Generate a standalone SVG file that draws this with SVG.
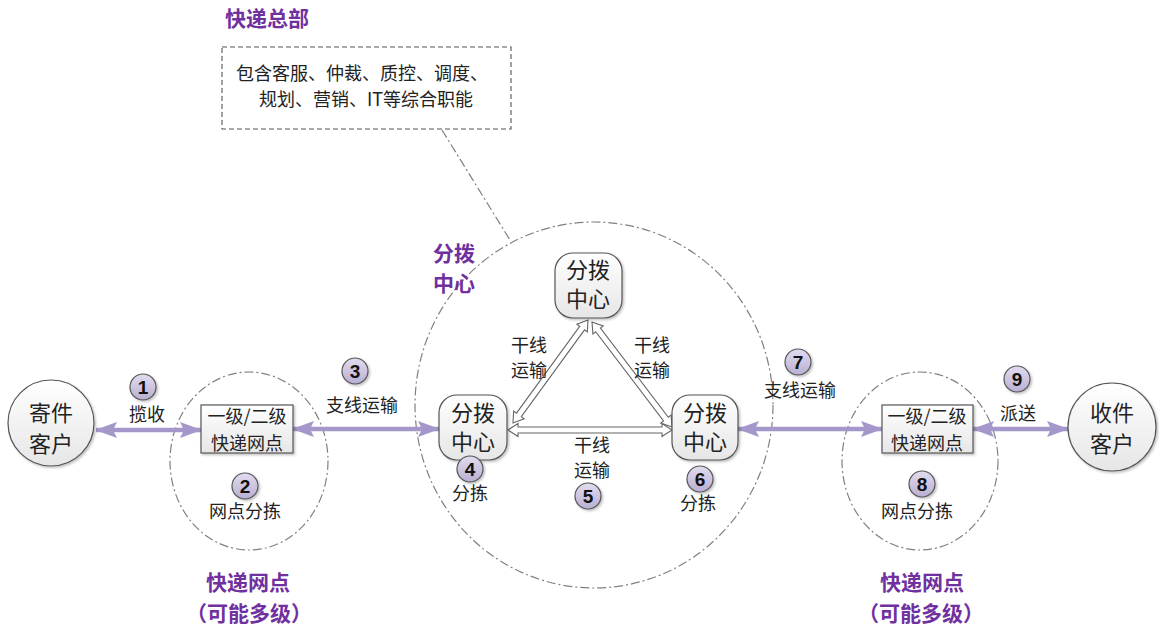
<svg xmlns="http://www.w3.org/2000/svg" width="1159" height="629" viewBox="0 0 1159 629">
<defs>
<linearGradient id="gNode" x1="0" y1="0" x2="0" y2="1">
<stop offset="0" stop-color="#ffffff"/>
<stop offset="1" stop-color="#e6e6e6"/>
</linearGradient>
<linearGradient id="gBadge" x1="0" y1="0" x2="0" y2="1">
<stop offset="0" stop-color="#e2dcef"/>
<stop offset="1" stop-color="#b9afd3"/>
</linearGradient>
<filter id="sh" x="-20%" y="-20%" width="150%" height="150%">
<feDropShadow dx="1.5" dy="1.5" stdDeviation="1.2" flood-color="#000" flood-opacity="0.25"/>
</filter>
<marker id="ph" viewBox="0 0 22 16" refX="21" refY="8" markerWidth="22" markerHeight="16" markerUnits="userSpaceOnUse" orient="auto-start-reverse">
<path d="M0,0 L22,8 L0,16 L4,8 Z" fill="#a597c9"/>
</marker>
</defs>
<style>
.t{font-family:"Noto Sans CJK SC","Liberation Sans",sans-serif;fill:#222;text-anchor:middle}
.lbl{font-size:18px}
.nd{font-size:22px}
.bx{font-size:18px}
.pu{font-family:"Noto Sans CJK SC","Liberation Sans",sans-serif;fill:#7030a0;font-weight:bold;font-size:21px;text-anchor:middle}
.num{font-family:"Liberation Sans",Arial,sans-serif;font-weight:bold;font-size:19px;fill:#111;text-anchor:middle}
.badge{fill:url(#gBadge);stroke:#555;stroke-width:1.2}
.zone{fill:none;stroke:#808080;stroke-width:1.2;stroke-dasharray:9 3 2 3}
.pl{stroke:#a597c9;stroke-width:4.5;fill:none;marker-start:url(#ph);marker-end:url(#ph)}
.hol{fill:#fff;stroke:#666;stroke-width:1.1}
.rnode{fill:url(#gNode);stroke:#555;stroke-width:1.2}
</style>
<rect width="1159" height="629" fill="#fff"/>

<!-- zones -->
<g id="zones">
<ellipse class="zone" cx="594" cy="405" rx="179" ry="183"/>
<ellipse class="zone" cx="249" cy="461" rx="79" ry="89"/>
<ellipse class="zone" cx="920" cy="461" rx="78" ry="89"/>
<line x1="442" y1="130" x2="510" y2="240" stroke="#808080" stroke-width="1.2" stroke-dasharray="9 3 2 3"/>
</g>

<!-- headquarters -->
<g id="hq">
<text class="pu" x="267" y="26" font-size="22">快递总部</text>
<rect x="222" y="47" width="289" height="82" fill="#fff" stroke="#555" stroke-width="1.1" stroke-dasharray="5 3"/>
<text class="t bx" x="362" y="80" font-size="19">包含客服、仲裁、质控、调度、</text>
<text class="t bx" x="366" y="106" font-size="19">规划、营销、IT等综合职能</text>
</g>

<!-- connectors -->
<g id="connectors">
<line class="pl" x1="96" y1="430" x2="201" y2="430"/>
<line class="pl" x1="293" y1="429" x2="439" y2="429"/>
<line class="pl" x1="738" y1="429" x2="882" y2="429"/>
<line class="pl" x1="973" y1="429" x2="1068" y2="429"/>
<polygon class="hol" points="508,430 518,423.5 518,427 662,427 662,423.5 672,430 662,436.5 662,433 518,433 518,436.5"/>
<g transform="translate(513,423) rotate(-53.94)">
<polygon class="hol" points="0,0 10,-6.5 10,-3 117.4,-3 117.4,-6.5 127.4,0 117.4,6.5 117.4,3 10,3 10,6.5"/>
</g>
<g transform="translate(592,322) rotate(52.7)">
<polygon class="hol" points="0,0 10,-6.5 10,-3 122,-3 122,-6.5 132,0 122,6.5 122,3 10,3 10,6.5"/>
</g>
</g>

<!-- nodes -->
<g id="sender">
<circle cx="51" cy="423" r="43" fill="url(#gNode)" stroke="#555" stroke-width="1.2" filter="url(#sh)"/>
<text class="t nd" x="51" y="421">寄件</text>
<text class="t nd" x="51" y="452">客户</text>
</g>
<g id="outlet-left">
<rect x="201" y="405" width="92" height="48" fill="url(#gNode)" stroke="#555" stroke-width="1.2" filter="url(#sh)"/>
<text class="t bx" x="247" y="423">一级/二级</text>
<text class="t bx" x="247" y="450">快递网点</text>
</g>
<g id="hub-top">
<rect class="rnode" x="555" y="253" width="67" height="65" rx="18" filter="url(#sh)"/>
<text class="t nd" x="588" y="278">分拨</text>
<text class="t nd" x="588" y="307">中心</text>
</g>
<g id="hub-left">
<rect class="rnode" x="439" y="395" width="68" height="65" rx="18" filter="url(#sh)"/>
<text class="t nd" x="473" y="421">分拨</text>
<text class="t nd" x="473" y="450">中心</text>
</g>
<g id="hub-right">
<rect class="rnode" x="672" y="395" width="66" height="65" rx="18" filter="url(#sh)"/>
<text class="t nd" x="705" y="421">分拨</text>
<text class="t nd" x="705" y="450">中心</text>
</g>
<g id="outlet-right">
<rect x="882" y="405" width="91" height="48" fill="url(#gNode)" stroke="#555" stroke-width="1.2" filter="url(#sh)"/>
<text class="t bx" x="927" y="423">一级/二级</text>
<text class="t bx" x="927" y="450">快递网点</text>
</g>
<g id="receiver">
<circle cx="1112" cy="427" r="44" fill="url(#gNode)" stroke="#555" stroke-width="1.2" filter="url(#sh)"/>
<text class="t nd" x="1112" y="421">收件</text>
<text class="t nd" x="1112" y="452">客户</text>
</g>

<!-- labels -->
<g id="labels">
<text class="t lbl" x="147" y="421">揽收</text>
<text class="t lbl" x="245" y="518">网点分拣</text>
<text class="t lbl" x="362" y="412">支线运输</text>
<text class="t lbl" x="529" y="352">干线</text>
<text class="t lbl" x="529" y="377">运输</text>
<text class="t lbl" x="652" y="352">干线</text>
<text class="t lbl" x="652" y="377">运输</text>
<text class="t lbl" x="592" y="452">干线</text>
<text class="t lbl" x="592" y="477">运输</text>
<text class="t lbl" x="470" y="500">分拣</text>
<text class="t lbl" x="698" y="510">分拣</text>
<text class="t lbl" x="800" y="397">支线运输</text>
<text class="t lbl" x="1018" y="420">派送</text>
<text class="t lbl" x="917" y="518">网点分拣</text>
<text class="pu" x="454" y="261">分拨</text>
<text class="pu" x="454" y="291">中心</text>
<text class="pu" x="248" y="590">快递网点</text>
<text class="pu" x="249" y="621">（可能多级）</text>
<text class="pu" x="922" y="590">快递网点</text>
<text class="pu" x="921" y="621">（可能多级）</text>
</g>

<!-- badges -->
<g id="badges">
<g filter="url(#sh)">
<circle class="badge" cx="143" cy="387" r="13"/>
<circle class="badge" cx="245" cy="486" r="13"/>
<circle class="badge" cx="355" cy="371" r="13"/>
<circle class="badge" cx="470" cy="469" r="13"/>
<circle class="badge" cx="588" cy="496" r="13"/>
<circle class="badge" cx="700" cy="479" r="13"/>
<circle class="badge" cx="798" cy="362" r="13"/>
<circle class="badge" cx="922" cy="484" r="13"/>
<circle class="badge" cx="1017" cy="379" r="13"/>
</g>
<text class="num" x="143" y="394">1</text>
<text class="num" x="245" y="493">2</text>
<text class="num" x="355" y="378">3</text>
<text class="num" x="470" y="476">4</text>
<text class="num" x="588" y="503">5</text>
<text class="num" x="700" y="486">6</text>
<text class="num" x="798" y="369">7</text>
<text class="num" x="922" y="491">8</text>
<text class="num" x="1017" y="386">9</text>
</g>
</svg>
